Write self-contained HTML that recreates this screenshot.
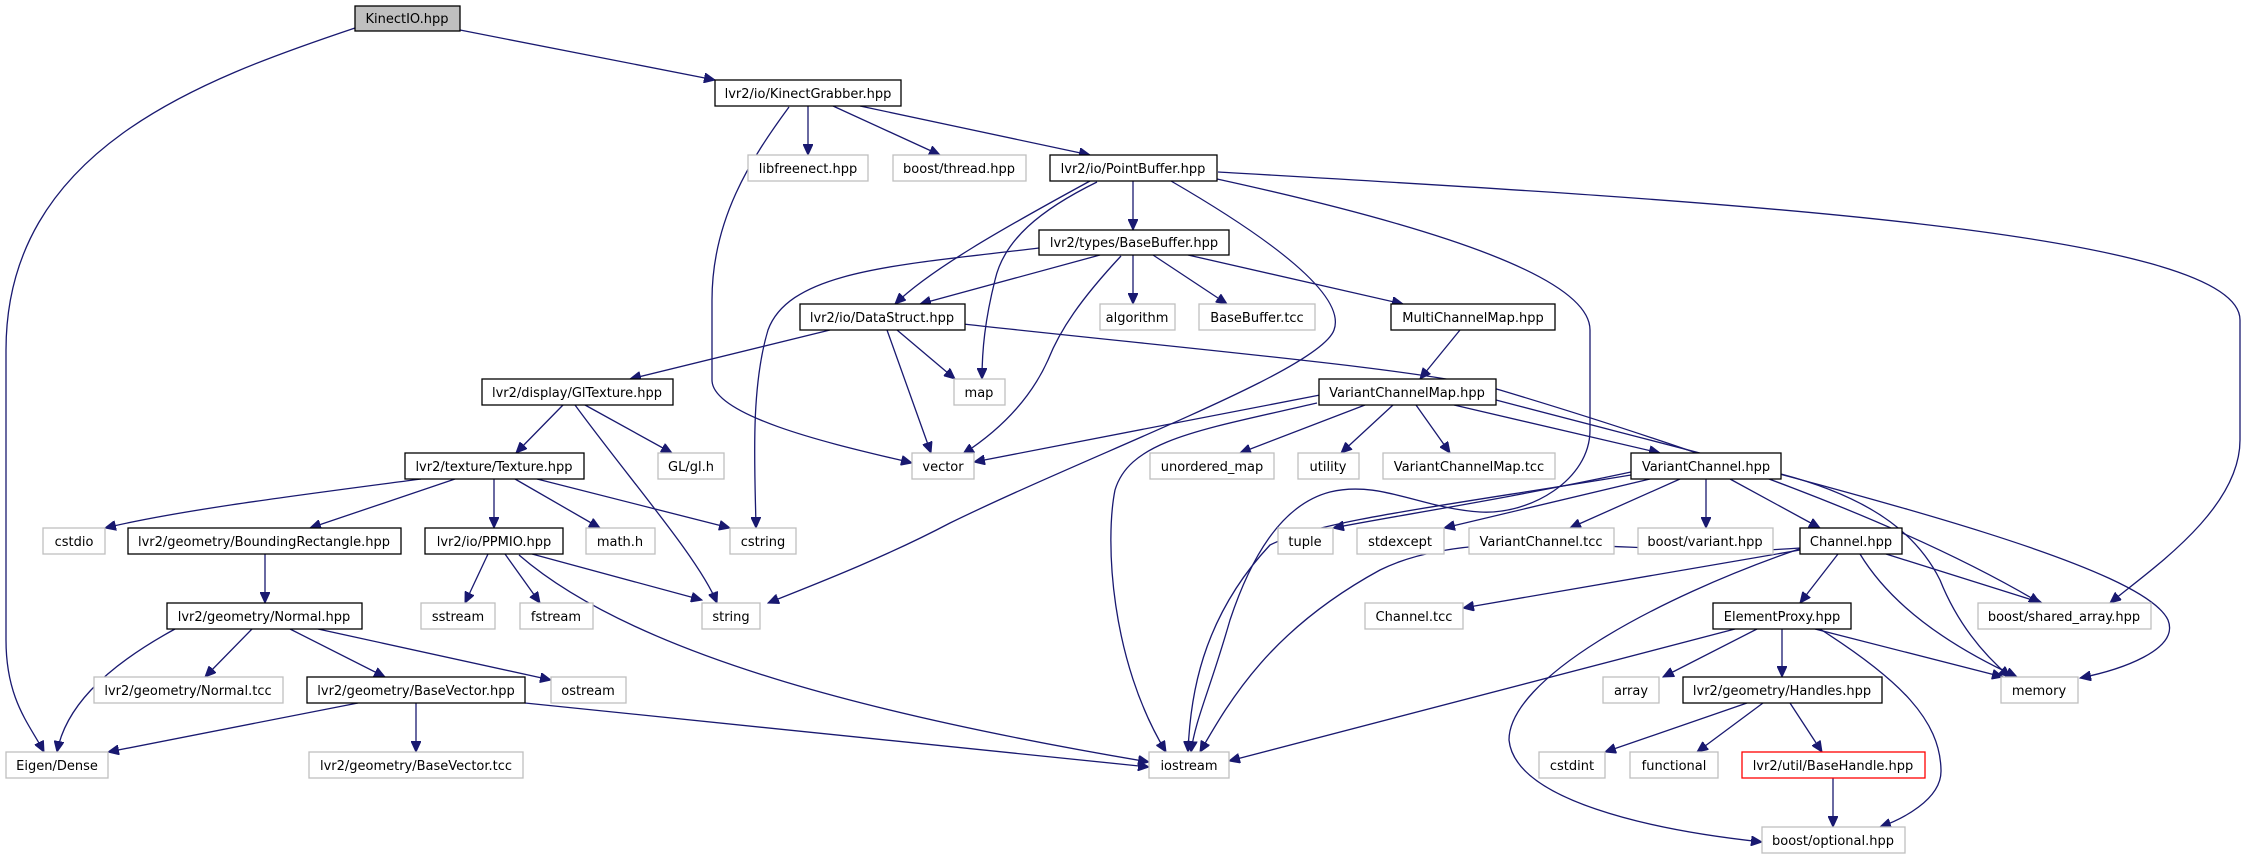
<!DOCTYPE html>
<html><head><meta charset="utf-8"><style>
html,body{margin:0;padding:0;background:#fff;}
svg{display:block;}
text{font-family:"DejaVu Sans","Liberation Sans",sans-serif;font-size:13px;fill:#000;}
.b{fill:#fff;stroke:#000;stroke-width:1.3;}
.g{fill:#fff;stroke:#bfbfbf;stroke-width:1.3;}
.r{fill:#fff;stroke:#ff0000;stroke-width:1.3;}
.k{fill:#bfbfbf;stroke:#000;stroke-width:1.3;}
path.e{fill:none;stroke:#191970;stroke-width:1.3;marker-end:url(#a);}
</style></head><body>
<svg width="2241" height="859" viewBox="0 0 2241 859" xmlns="http://www.w3.org/2000/svg">
<defs><marker id="a" markerUnits="userSpaceOnUse" markerWidth="12" markerHeight="10" refX="11" refY="5" orient="auto"><path d="M0,0 L11,5 L0,10 Z" fill="#191970" stroke="#191970"/></marker></defs>

<!-- edges -->
<path class="e" d="M460,30 L715,80"/>
<path class="e" d="M355,28 C200,80 6,150 6,350 L6,640 C6,700 30,725 44,752"/>
<path class="e" d="M808,106 L808,155"/>
<path class="e" d="M833,106 L940,155"/>
<path class="e" d="M860,106 L1090,155"/>
<path class="e" d="M789,107 C750,160 712,220 712,300 L712,380 C712,420 860,450 912,463"/>
<path class="e" d="M1133,181 L1133,230"/>
<path class="e" d="M1090,181 C1000,230 930,270 895,304"/>
<path class="e" d="M1097,182 C1040,210 1004,240 995,280 C985,320 982,350 982,379"/>
<path class="e" d="M1171,181 C1290,250 1345,300 1334,330 C1320,370 1100,450 950,523 C880,560 800,590 768,603"/>
<path class="e" d="M1217,179 C1450,230 1590,280 1590,330 L1590,430 C1590,480 1530,515 1480,512 C1420,508 1380,480 1330,492 C1280,505 1250,560 1230,620 C1210,690 1195,720 1191,752"/>
<path class="e" d="M1218,172 C1700,200 2240,230 2240,320 L2240,440 C2240,510 2150,570 2110,603"/>
<path class="e" d="M1100,255 L920,304"/>
<path class="e" d="M1133,255 L1133,304"/>
<path class="e" d="M1153,255 L1227,304"/>
<path class="e" d="M1188,255 L1403,304"/>
<path class="e" d="M1121,256 C1080,300 1060,330 1048,360 C1030,400 1000,430 963,454"/>
<path class="e" d="M1039,248 C900,265 790,270 768,330 C750,390 755,470 756,528"/>
<path class="e" d="M830,330 L630,379"/>
<path class="e" d="M897,330 L955,379"/>
<path class="e" d="M887,330 L931,453"/>
<path class="e" d="M963,324 C1200,350 1430,370 1500,390 C1700,450 1900,520 2040,603"/>
<path class="e" d="M1460,330 L1420,379"/>
<path class="e" d="M1320,395 L974,462"/>
<path class="e" d="M1365,405 L1240,453"/>
<path class="e" d="M1393,405 L1341,453"/>
<path class="e" d="M1416,405 L1450,453"/>
<path class="e" d="M1454,405 L1660,453"/>
<path class="e" d="M1496,400 C1800,480 2140,560 2168,620 C2180,650 2120,670 2080,678"/>
<path class="e" d="M1317,403 C1200,430 1130,440 1115,490 C1105,540 1110,660 1166,752"/>
<path class="e" d="M1631,472 C1500,500 1400,515 1333,528"/>
<path class="e" d="M1650,479 L1444,528"/>
<path class="e" d="M1680,479 L1570,528"/>
<path class="e" d="M1706,479 L1706,528"/>
<path class="e" d="M1730,479 L1820,528"/>
<path class="e" d="M1781,474 C1880,500 1920,540 1940,580 C1960,630 1990,660 2010,677"/>
<path class="e" d="M1631,475 C1450,505 1320,520 1270,545 C1200,620 1190,700 1188,752"/>
<path class="e" d="M1800,550 L1463,608"/>
<path class="e" d="M1838,554 L1800,603"/>
<path class="e" d="M1886,554 L2042,603"/>
<path class="e" d="M1860,554 C1900,620 1980,660 2017,677"/>
<path class="e" d="M1800,548 C1650,560 1480,520 1380,570 C1270,630 1230,700 1200,752"/>
<path class="e" d="M1802,548 C1650,600 1509,680 1509,740 C1515,800 1650,830 1762,842"/>
<path class="e" d="M1735,629 L1229,761"/>
<path class="e" d="M1757,629 L1663,677"/>
<path class="e" d="M1782,629 L1782,677"/>
<path class="e" d="M1815,629 L2003,677"/>
<path class="e" d="M1820,629 C1900,680 1940,720 1941,770 C1942,800 1900,820 1880,827"/>
<path class="e" d="M1747,703 L1605,752"/>
<path class="e" d="M1763,703 L1697,752"/>
<path class="e" d="M1790,703 L1822,752"/>
<path class="e" d="M1833,778 L1833,827"/>
<path class="e" d="M421,479 C300,495 180,510 105,528"/>
<path class="e" d="M455,479 L310,528"/>
<path class="e" d="M494,479 L494,528"/>
<path class="e" d="M515,479 L600,528"/>
<path class="e" d="M537,479 L730,528"/>
<path class="e" d="M563,405 L516,453"/>
<path class="e" d="M585,405 L672,453"/>
<path class="e" d="M575,405 C630,480 700,560 717,603"/>
<path class="e" d="M265,554 L265,603"/>
<path class="e" d="M488,554 L465,603"/>
<path class="e" d="M505,554 L540,603"/>
<path class="e" d="M532,554 L702,600"/>
<path class="e" d="M519,555 C640,660 900,720 1149,762"/>
<path class="e" d="M175,629 C100,670 65,710 57,752"/>
<path class="e" d="M252,629 L205,677"/>
<path class="e" d="M290,629 L385,677"/>
<path class="e" d="M318,629 L551,680"/>
<path class="e" d="M358,703 L108,752"/>
<path class="e" d="M416,703 L416,752"/>
<path class="e" d="M525,703 L1149,767"/>

<!-- nodes -->
<g>
<rect class="k" x="355" y="6" width="105" height="25"/><text x="407" y="23" text-anchor="middle">KinectIO.hpp</text>
<rect class="b" x="715" y="80" width="186" height="26"/><text x="808" y="98" text-anchor="middle">lvr2/io/KinectGrabber.hpp</text>
<rect class="g" x="748" y="155" width="120" height="26"/><text x="808" y="173" text-anchor="middle">libfreenect.hpp</text>
<rect class="g" x="893" y="155" width="133" height="26"/><text x="959" y="173" text-anchor="middle">boost/thread.hpp</text>
<rect class="b" x="1050" y="155" width="167" height="26"/><text x="1133" y="173" text-anchor="middle">lvr2/io/PointBuffer.hpp</text>
<rect class="b" x="1039" y="230" width="190" height="25"/><text x="1134" y="247" text-anchor="middle">lvr2/types/BaseBuffer.hpp</text>
<rect class="b" x="800" y="304" width="165" height="26"/><text x="882" y="322" text-anchor="middle">lvr2/io/DataStruct.hpp</text>
<rect class="g" x="1100" y="304" width="75" height="26"/><text x="1137" y="322" text-anchor="middle">algorithm</text>
<rect class="g" x="1199" y="304" width="116" height="26"/><text x="1257" y="322" text-anchor="middle">BaseBuffer.tcc</text>
<rect class="b" x="1391" y="304" width="164" height="26"/><text x="1473" y="322" text-anchor="middle">MultiChannelMap.hpp</text>
<rect class="b" x="482" y="379" width="191" height="26"/><text x="577" y="397" text-anchor="middle">lvr2/display/GlTexture.hpp</text>
<rect class="g" x="954" y="379" width="51" height="26"/><text x="979" y="397" text-anchor="middle">map</text>
<rect class="b" x="1319" y="379" width="177" height="26"/><text x="1407" y="397" text-anchor="middle">VariantChannelMap.hpp</text>
<rect class="b" x="405" y="453" width="179" height="26"/><text x="494" y="471" text-anchor="middle">lvr2/texture/Texture.hpp</text>
<rect class="g" x="658" y="453" width="66" height="26"/><text x="691" y="471" text-anchor="middle">GL/gl.h</text>
<rect class="g" x="912" y="453" width="62" height="26"/><text x="943" y="471" text-anchor="middle">vector</text>
<rect class="g" x="1150" y="453" width="124" height="26"/><text x="1212" y="471" text-anchor="middle">unordered_map</text>
<rect class="g" x="1298" y="453" width="61" height="26"/><text x="1328" y="471" text-anchor="middle">utility</text>
<rect class="g" x="1383" y="453" width="172" height="26"/><text x="1469" y="471" text-anchor="middle">VariantChannelMap.tcc</text>
<rect class="b" x="1631" y="453" width="150" height="26"/><text x="1706" y="471" text-anchor="middle">VariantChannel.hpp</text>
<rect class="g" x="43" y="528" width="62" height="26"/><text x="74" y="546" text-anchor="middle">cstdio</text>
<rect class="b" x="128" y="528" width="273" height="26"/><text x="264" y="546" text-anchor="middle">lvr2/geometry/BoundingRectangle.hpp</text>
<rect class="b" x="425" y="528" width="138" height="26"/><text x="494" y="546" text-anchor="middle">lvr2/io/PPMIO.hpp</text>
<rect class="g" x="586" y="528" width="69" height="26"/><text x="620" y="546" text-anchor="middle">math.h</text>
<rect class="g" x="730" y="528" width="66" height="26"/><text x="763" y="546" text-anchor="middle">cstring</text>
<rect class="g" x="1278" y="528" width="55" height="26"/><text x="1305" y="546" text-anchor="middle">tuple</text>
<rect class="g" x="1357" y="528" width="87" height="26"/><text x="1400" y="546" text-anchor="middle">stdexcept</text>
<rect class="g" x="1469" y="528" width="145" height="26"/><text x="1541" y="546" text-anchor="middle">VariantChannel.tcc</text>
<rect class="g" x="1638" y="528" width="135" height="26"/><text x="1705" y="546" text-anchor="middle">boost/variant.hpp</text>
<rect class="b" x="1800" y="528" width="102" height="26"/><text x="1851" y="546" text-anchor="middle">Channel.hpp</text>
<rect class="b" x="167" y="603" width="195" height="26"/><text x="264" y="621" text-anchor="middle">lvr2/geometry/Normal.hpp</text>
<rect class="g" x="421" y="603" width="74" height="26"/><text x="458" y="621" text-anchor="middle">sstream</text>
<rect class="g" x="520" y="603" width="73" height="26"/><text x="556" y="621" text-anchor="middle">fstream</text>
<rect class="g" x="702" y="603" width="58" height="26"/><text x="731" y="621" text-anchor="middle">string</text>
<rect class="g" x="1365" y="603" width="98" height="26"/><text x="1414" y="621" text-anchor="middle">Channel.tcc</text>
<rect class="b" x="1713" y="603" width="138" height="26"/><text x="1782" y="621" text-anchor="middle">ElementProxy.hpp</text>
<rect class="g" x="1978" y="603" width="173" height="26"/><text x="2064" y="621" text-anchor="middle">boost/shared_array.hpp</text>
<rect class="g" x="94" y="677" width="189" height="26"/><text x="188" y="695" text-anchor="middle">lvr2/geometry/Normal.tcc</text>
<rect class="b" x="307" y="677" width="218" height="26"/><text x="416" y="695" text-anchor="middle">lvr2/geometry/BaseVector.hpp</text>
<rect class="g" x="551" y="677" width="75" height="26"/><text x="588" y="695" text-anchor="middle">ostream</text>
<rect class="g" x="1603" y="677" width="56" height="26"/><text x="1631" y="695" text-anchor="middle">array</text>
<rect class="b" x="1683" y="677" width="199" height="26"/><text x="1782" y="695" text-anchor="middle">lvr2/geometry/Handles.hpp</text>
<rect class="g" x="2001" y="677" width="77" height="26"/><text x="2039" y="695" text-anchor="middle">memory</text>
<rect class="g" x="6" y="752" width="102" height="26"/><text x="57" y="770" text-anchor="middle">Eigen/Dense</text>
<rect class="g" x="309" y="752" width="214" height="26"/><text x="416" y="770" text-anchor="middle">lvr2/geometry/BaseVector.tcc</text>
<rect class="g" x="1149" y="752" width="80" height="26"/><text x="1189" y="770" text-anchor="middle">iostream</text>
<rect class="g" x="1539" y="752" width="66" height="26"/><text x="1572" y="770" text-anchor="middle">cstdint</text>
<rect class="g" x="1630" y="752" width="88" height="26"/><text x="1674" y="770" text-anchor="middle">functional</text>
<rect class="r" x="1742" y="752" width="183" height="26"/><text x="1833" y="770" text-anchor="middle">lvr2/util/BaseHandle.hpp</text>
<rect class="g" x="1762" y="827" width="143" height="26"/><text x="1833" y="845" text-anchor="middle">boost/optional.hpp</text>
</g>
</svg>
</body></html>
